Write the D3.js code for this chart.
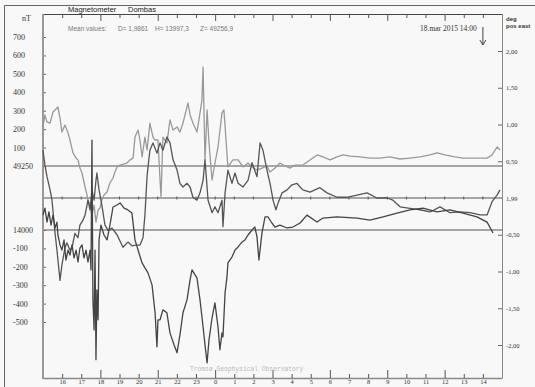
<!DOCTYPE html>
<html>
<head>
<meta charset="utf-8">
<script src="https://cdn.jsdelivr.net/npm/d3@7"></script>
<style>
  html, body { margin: 0; padding: 0; background: #f8f8f8; }
  svg { display: block; }
</style>
</head>
<body>
<svg id="chart" width="535" height="387"></svg>
<script>
// hours since 17 Mar 00:00 (plot runs 15:00 -> 15:00 next day)
const hourTicks = d3.range(16, 39);
const markerHour = 38;
const markerLabel = "18.mar 2015 14:00";

// left axis labels (nT): upper ones relative to Z baseline, lower ones to H baseline
const nTUpperTicks = [100, 200, 300, 400, 500, 600, 700];
const nTLowerTicks = [-100, -200, -300, -400, -500];
const zBase = 49250;
const hBase = 14000;
const dBase = 1.99;
const degTicks = [2, 1.5, 1, 0.5, 0, -0.5, -1, -1.5, -2];

// Z component, nT above 49250
const zHours = [15.00, 15.10, 15.21, 15.37, 15.52, 15.63, 15.78, 15.89, 15.99, 16.15, 16.31, 16.41, 16.57, 16.73, 16.83, 16.93,
  17.04, 17.20, 17.30, 17.35, 17.46, 17.56, 17.67, 17.77, 17.88, 17.98, 18.08, 18.19, 18.35, 18.50, 18.66, 18.76, 18.87,
  19.03, 19.24, 19.39, 19.55, 19.71, 19.81, 19.97, 20.07, 20.18, 20.33, 20.44, 20.59, 20.75, 20.86, 21.01, 21.12, 21.17,
  21.27, 21.48, 21.64, 21.80, 22.01, 22.16, 22.32, 22.58, 22.69, 22.84, 23.05, 23.21, 23.31, 23.37, 23.47, 23.58, 23.68,
  23.84, 23.99, 24.15, 24.36, 24.46, 24.57, 24.67, 24.93, 25.20, 25.46, 25.72, 25.93, 26.19, 26.45, 26.71, 26.87, 27.13,
  27.39, 27.65, 27.92, 28.18, 28.59, 28.96, 29.33, 29.64, 30.01, 30.37, 30.69, 31.05, 31.58, 32.10, 32.62, 33.14, 33.67,
  34.19, 34.71, 35.24, 35.60, 36.02, 36.54, 36.96, 37.33, 37.85, 38.22, 38.48, 38.74, 38.90];
const zNT = [212, 277, 239, 233, 293, 304, 320, 260, 184, 222, 179, 141, 71, 43, 33, -11,
  -38, -114, -157, -184, -212, -266, -212, -304, -239, -228, -184, -157, -141, -92, -65, -33, -5,
  5, 11, 16, 33, 43, 157, 195, 141, 49, 157, 87, 233, 157, 141, 141, -76, -168,
  157, 125, 250, 195, 212, 184, 233, 342, 277, 233, 184, 288, 358, 537, 33, 304, 125,
  -76, 16, 103, 288, 304, 141, -5, 33, 33, -5, 16, -5, -22, -11, 0, -33, -11,
  16, 0, -11, 5, 5, 33, 60, 49, 33, 49, 60, 54, 49, 43, 43, 49, 38,
  43, 49, 60, 71, 60, 49, 43, 43, 43, 43, 60, 103, 87];

// H component, nT relative to 14000
const hHours = [15.00, 15.10, 15.21, 15.31, 15.42, 15.52, 15.63, 15.73, 15.78, 15.89, 15.99, 16.10, 16.20, 16.31, 16.41,
  16.52, 16.62, 16.73, 16.83, 16.93, 17.04, 17.14, 17.25, 17.35, 17.46, 17.51, 17.56, 17.61, 17.67, 17.72, 17.77, 17.82,
  17.88, 17.93, 18.03, 18.19, 18.35, 18.50, 18.66, 18.87, 19.03, 19.24, 19.44, 19.65, 19.81, 19.97, 20.18, 20.33, 20.49,
  20.70, 20.86, 20.96, 21.01, 21.12, 21.27, 21.48, 21.64, 21.85, 22.01, 22.16, 22.32, 22.53, 22.69, 22.79, 22.95, 23.05,
  23.21, 23.37, 23.47, 23.58, 23.68, 23.84, 23.99, 24.15, 24.25, 24.36, 24.41, 24.52, 24.62, 24.67, 24.88, 25.04, 25.20,
  25.41, 25.56, 25.72, 25.93, 26.08, 26.19, 26.29, 26.45, 26.61, 26.76, 26.97, 27.13, 27.39, 27.76, 28.07, 28.44, 28.80,
  29.33, 29.64, 30.37, 31.42, 32.10, 32.78, 33.51, 34.19, 34.87, 35.60, 36.28, 36.96, 37.69, 38.22, 38.53, 38.90];
const hNT = [81, 119, 43, 98, 27, 81, 11, 43, -27, -81, -109, -54, -163, -109, -136,
  -81, -152, -109, -174, -98, -81, -152, -109, -174, -109, -217, 488, -380, -543, -109, -705, -326,
  -488, -54, 27, -27, -54, 27, 125, 136, 147, 119, 109, 92, -54, -109, -179, -206, -233,
  -298, -450, -635, -488, -488, -434, -450, -559, -624, -667, -570, -450, -380, -271, -217, -244, -260,
  -380, -526, -624, -722, -597, -477, -396, -526, -651, -559, -581, -342, -255, -179, -147, -109, -92,
  -65, -54, -27, 0, 16, -38, -163, -16, 71, 71, 38, 16, 27, 11, 16, 38,
  81, 43, 65, 71, 65, 54, 71, 92, 109, 119, 98, 109, 92, 71, 43, -16];

// D component, degrees relative to 1,99
const dHours = [15.00, 15.10, 15.21, 15.37, 15.47, 15.63, 15.73, 15.78, 15.89, 15.99, 16.05, 16.15, 16.25, 16.41, 16.52,
  16.67, 16.83, 16.93, 17.09, 17.20, 17.30, 17.35, 17.46, 17.56, 17.67, 17.77, 17.82, 17.93, 18.08, 18.24, 18.40, 18.61,
  18.87, 19.18, 19.44, 19.65, 19.86, 20.07, 20.23, 20.33, 20.44, 20.49, 20.59, 20.75, 20.96, 21.12, 21.27, 21.48, 21.64,
  21.80, 22.01, 22.16, 22.32, 22.53, 22.69, 22.84, 23.05, 23.21, 23.37, 23.47, 23.63, 23.84, 23.99, 24.15, 24.36, 24.41,
  24.52, 24.67, 24.88, 25.04, 25.20, 25.46, 25.72, 25.93, 26.19, 26.35, 26.50, 26.71, 26.87, 27.03, 27.18, 27.29, 27.50,
  27.76, 28.02, 28.28, 28.44, 28.59, 28.96, 29.48, 29.85, 30.37, 30.90, 31.42, 31.94, 32.46, 32.99, 33.30, 33.67, 34.19,
  34.71, 35.24, 35.76, 36.28, 36.80, 37.33, 37.85, 38.22, 38.48, 38.74, 38.90];
const dDeg = [0.65, 0.45, 0.29, 0.11, -0.03, -0.48, -0.71, -0.84, -1.12, -0.91, -0.82, -0.68, -0.61, -0.71, -0.67,
  -0.48, -0.54, -0.37, -0.30, -0.23, -0.10, -0.03, -0.16, 0.11, -0.03, 0.24, 0.34, 0.11, -0.10, -0.37, -0.44, -0.41,
  -0.50, -0.67, -0.60, -0.65, -0.64, -0.64, -0.54, -0.23, 0.29, 0.42, 0.65, 0.75, 0.61, 0.75, 0.65, 0.83, 0.75,
  0.52, 0.38, 0.20, 0.15, 0.20, 0.15, 0.01, -0.03, 0.07, 0.24, 0.52, -0.03, -0.20, -0.12, -0.20, -0.03, -0.39,
  0.07, 0.38, 0.20, 0.34, 0.20, 0.15, 0.24, 0.48, 0.29, 0.75, 0.65, 0.38, 0.20, -0.03, -0.16, -0.07, 0.07,
  0.11, 0.18, 0.20, 0.15, 0.11, 0.08, 0.14, 0.07, 0.01, 0.01, 0.04, 0.07, 0.00, 0.00, -0.03, -0.12, -0.14,
  -0.16, -0.19, -0.12, -0.20, -0.19, -0.20, -0.23, -0.23, -0.05, 0.04, 0.11];

const svg = d3.select("#chart");
const plotLeft = 43, plotRight = 502, plotTop = 14, plotBottom = 378;

const x = d3.scaleLinear().domain([15, 39]).range([plotLeft, plotRight]);
const yZ = d3.scaleLinear().domain([0, 700]).range([166, 37]);
const yH = d3.scaleLinear().domain([0, -500]).range([230, 322]);
const yD = d3.scaleLinear().domain([0, 2]).range([198, 51]);

const serif = "Liberation Serif";
const sans = "Liberation Sans";

// outer picture border (top / left only, rest is cropped)
svg.append("path").attr("d", "M4.5,387V5.5H535").attr("fill", "none").attr("stroke", "#666").attr("stroke-width", 1);

// frame: top and right lines
svg.append("line").attr("x1", plotLeft).attr("x2", plotRight).attr("y1", plotTop + 0.5).attr("y2", plotTop + 0.5)
  .attr("stroke", "#444").attr("stroke-width", 1);
svg.append("line").attr("x1", plotRight + 0.5).attr("x2", plotRight + 0.5).attr("y1", plotTop).attr("y2", plotBottom)
  .attr("stroke", "#888").attr("stroke-width", 1);

// baselines
[yZ(0), yD(0), yH(0)].forEach(yy => {
  svg.append("line").attr("x1", plotLeft).attr("x2", plotRight).attr("y1", yy).attr("y2", yy)
    .attr("stroke", "#555").attr("stroke-width", 1);
});
// hour dots on D baseline
svg.append("g").selectAll("line").data(hourTicks).join("line")
  .attr("x1", d => x(d)).attr("x2", d => x(d))
  .attr("y1", yD(0) - 1.5).attr("y2", yD(0) + 1.5)
  .attr("stroke", "#555");

// left axis
const leftUpper = svg.append("g").attr("transform", `translate(${plotLeft},0)`)
  .call(d3.axisLeft(yZ).tickValues([0, ...nTUpperTicks]).tickSizeInner(-3).tickSizeOuter(0)
    .tickFormat(d => d === 0 ? String(zBase) : String(d)));
const leftLower = svg.append("g").attr("transform", `translate(${plotLeft},0)`)
  .call(d3.axisLeft(yH).tickValues([0, ...nTLowerTicks]).tickSizeInner(-3).tickSizeOuter(0)
    .tickFormat(d => d === 0 ? String(hBase) : String(d)));
[leftUpper, leftLower].forEach(g => {
  g.select(".domain").remove();
  g.selectAll("text").attr("x", 13 - plotLeft).attr("text-anchor", "start")
    .attr("font-family", serif).attr("font-size", 8).attr("fill", "#333");
  g.selectAll("line").attr("stroke", "#666");
});
svg.append("line").attr("x1", plotLeft).attr("x2", plotLeft).attr("y1", plotTop).attr("y2", plotBottom + 1)
  .attr("stroke", "#999").attr("stroke-width", 2);
svg.append("text").attr("x", 22).attr("y", 21).text("nT")
  .attr("font-family", serif).attr("font-size", 8).attr("fill", "#333");

// right axis (degrees)
const fmtDeg = d => (d === 0 ? dBase : d).toFixed(2).replace(".", ",");
const rightAxis = svg.append("g").attr("transform", `translate(${plotRight},0)`)
  .call(d3.axisRight(yD).tickValues(degTicks).tickSizeInner(-4).tickSizeOuter(0).tickPadding(4).tickFormat(fmtDeg));
rightAxis.select(".domain").remove();
rightAxis.selectAll("line").attr("stroke", "#666");
rightAxis.selectAll("text").attr("font-family", serif).attr("font-size", 6.5).attr("fill", "#333");
rightAxis.selectAll(".tick").filter(d => d === 0).select("line").remove();
svg.append("text").attr("x", 506).attr("y", 21).text("deg")
  .attr("font-family", sans).attr("font-size", 6).attr("font-weight", "bold").attr("fill", "#333");
svg.append("text").attr("x", 506).attr("y", 28).text("pos east")
  .attr("font-family", sans).attr("font-size", 6).attr("font-weight", "bold").attr("fill", "#333");

// bottom time axis
const bottomAxis = svg.append("g").attr("transform", `translate(0,${plotBottom})`)
  .call(d3.axisBottom(x).tickValues(hourTicks).tickSizeInner(-4).tickSizeOuter(0).tickPadding(2)
    .tickFormat(d => String(d % 24)));
bottomAxis.select(".domain").attr("stroke", "#888").attr("stroke-width", 1.5);
bottomAxis.selectAll(".tick line").attr("stroke", "#555").attr("y2", d => d % 3 === 0 ? -8 : -4);
bottomAxis.selectAll("text").attr("font-family", serif).attr("font-size", 6.5).attr("fill", "#333")
  .attr("dy", "0.6em");

// top ticks
const topAxis = svg.append("g").attr("transform", `translate(0,${plotTop})`)
  .call(d3.axisTop(x).tickValues(hourTicks).tickSizeOuter(0).tickFormat(""));
topAxis.select(".domain").remove();
topAxis.selectAll(".tick line").attr("stroke", "#555").attr("y2", d => d % 3 === 0 ? 7 : 4);

// traces
const lineZ = d3.line().x(d => x(d[0])).y(d => yZ(d[1]));
const lineH = d3.line().x(d => x(d[0])).y(d => yH(d[1]));
const lineD = d3.line().x(d => x(d[0])).y(d => yD(d[1]));

svg.append("path").datum(d3.zip(zHours, zNT)).attr("d", lineZ)
  .attr("fill", "none").attr("stroke", "#999").attr("stroke-width", 1.3).attr("stroke-linejoin", "round");
svg.append("path").datum(d3.zip(dHours, dDeg)).attr("d", lineD)
  .attr("fill", "none").attr("stroke", "#555").attr("stroke-width", 1.3).attr("stroke-linejoin", "round");
svg.append("path").datum(d3.zip(hHours, hNT)).attr("d", lineH)
  .attr("fill", "none").attr("stroke", "#444").attr("stroke-width", 1.3).attr("stroke-linejoin", "round");

// title texts
svg.append("text").attr("x", 68).attr("y", 12).text("Magnetometer")
  .attr("font-family", sans).attr("font-size", 7.5).attr("fill", "#222");
svg.append("text").attr("x", 128).attr("y", 12).text("Dombas")
  .attr("font-family", sans).attr("font-size", 7.5).attr("fill", "#222");

const meanG = svg.append("g").attr("font-family", sans).attr("font-size", 6.5).attr("fill", "#777");
meanG.append("text").attr("x", 68).attr("y", 31).text("Mean values:");
meanG.append("text").attr("x", 118).attr("y", 31).text("D= 1,9861");
meanG.append("text").attr("x", 155).attr("y", 31).text("H= 13997,3");
meanG.append("text").attr("x", 200).attr("y", 31).text("Z= 49256,9");

// time marker
const ax = x(markerHour);
svg.append("text").attr("x", ax - 6).attr("y", 31).attr("text-anchor", "end").text(markerLabel)
  .attr("font-family", serif).attr("font-size", 7.5).attr("fill", "#333");
svg.append("path").attr("d", `M${ax},27V45M${ax - 3},40L${ax},45L${ax + 3},40`)
  .attr("fill", "none").attr("stroke", "#444").attr("stroke-width", 1);

// footer
svg.append("text").attr("x", 190).attr("y", 371).text("Tromsø Geophysical Observatory")
  .attr("font-family", "Liberation Mono").attr("font-size", 6.3).attr("fill", "#bbb");
</script>
</body>
</html>
